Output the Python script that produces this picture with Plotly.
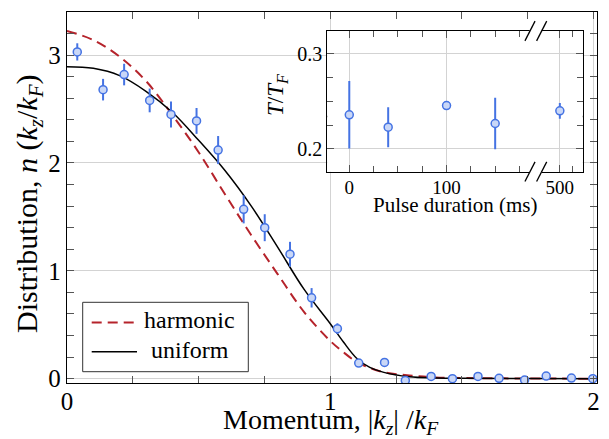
import plotly.graph_objects as go

# ---------------- main panel data ----------------
kz = [0.039, 0.137, 0.217, 0.314, 0.395, 0.492, 0.574, 0.671, 0.751, 0.847, 0.929,
      1.027, 1.108, 1.206, 1.285, 1.383, 1.464, 1.561, 1.641, 1.738, 1.820, 1.916, 1.997]
n_meas = [3.03, 2.68, 2.82, 2.58, 2.45, 2.39, 2.12, 1.57, 1.40, 1.154, 0.75,
          0.464, 0.145, 0.151, -0.016, 0.021, 0.0, 0.021, 0.003, -0.013, 0.024, 0.006, 0.0]
n_err = [0.08, 0.10, 0.10, 0.11, 0.12, 0.12, 0.13, 0.13, 0.125, 0.115, 0.09,
         0.05, 0.02, 0.02, 0.01, 0.01, 0.01, 0.01, 0.01, 0.01, 0.01, 0.01, 0.01]

curve_x = [0.0, 0.1, 0.2, 0.3, 0.4, 0.5, 0.6, 0.7, 0.8, 0.9, 1.0, 1.05, 1.1, 1.15,
           1.2, 1.3, 1.4, 1.5, 1.75, 2.0]
harm_y = [3.225, 3.14, 2.985, 2.76, 2.445, 2.10, 1.71, 1.33, 0.97, 0.62, 0.35, 0.245, 0.155, 0.10,
          0.061, 0.030, 0.012, 0.006, 0.002, 0.0]
unif_y = [2.893, 2.878, 2.81, 2.665, 2.47, 2.21, 1.93, 1.60, 1.22, 0.83, 0.51, 0.34, 0.19, 0.105,
          0.061, 0.018, 0.007, 0.003, 0.001, 0.0]
series_names = ["harmonic", "uniform"]

# ---------------- inset data ----------------
pulse_ms = [0, 40, 100, 150, 500]
T_over_TF = [0.2358, 0.2228, 0.2456, 0.2267, 0.240]
T_err = [0.0355, 0.021, 0.004, 0.027, 0.0083]
T_mean = 0.234
pulse_ticks = [0, 100, 500]
pulse_ticklabels = ["0", "100", "500"]

BREAK_SHIFT = 283.5  # broken axis: values >= 200 ms are shifted left


def pulse_pos(t):
    return t if t < 200 else t - BREAK_SHIFT


# ---------------- geometry helpers (pixel -> paper) ----------------
W, H = 609, 439
ML, MR, MT, MB = 67, 12, 12, 56
PW, PH = W - ML - MR, H - MT - MB


def px(xp):
    return (xp - ML) / PW


def py(yp):
    return (H - MB - yp) / PH


FONT = "Liberation Serif"
BLUE_LINE = "#4573e3"
BLUE_FILL = "#c9d7f7"
RED = "#b5232b"
GRID = "#d3d3d3"
TICKC = "#555555"
RED_DASH = "10px,6px"

fig = go.Figure()

fig.add_trace(go.Scatter(x=curve_x, y=harm_y, mode="lines", name=series_names[0], showlegend=False,
                         line=dict(color=RED, width=2, dash=RED_DASH, shape="spline", smoothing=1.0)))
fig.add_trace(go.Scatter(x=curve_x, y=unif_y, mode="lines", name=series_names[1], showlegend=False,
                         line=dict(color="black", width=1.5, shape="spline", smoothing=1.0)))
fig.add_trace(go.Scatter(x=kz, y=n_meas, mode="markers", showlegend=False,
                         error_y=dict(type="data", array=n_err, color=BLUE_LINE, thickness=2, width=0),
                         marker=dict(size=8, color=BLUE_FILL, line=dict(color=BLUE_LINE, width=1.5))))

fig.add_trace(go.Scatter(x=[pulse_pos(t) for t in pulse_ms], y=T_over_TF, mode="markers",
                         xaxis="x2", yaxis="y2", showlegend=False,
                         error_y=dict(type="data", array=T_err, color=BLUE_LINE, thickness=2, width=0),
                         marker=dict(size=8, color=BLUE_FILL, line=dict(color=BLUE_LINE, width=1.5))))

axis_common = dict(showline=True, linecolor="black", linewidth=1.3, mirror="ticks",
                   ticks="inside", ticklen=7, tickcolor=TICKC, tickwidth=1,
                   showgrid=True, gridcolor=GRID, gridwidth=1, zeroline=False, automargin=False)

fig.update_layout(
    width=W, height=H,
    margin=dict(l=ML, r=MR, t=MT, b=MB),
    paper_bgcolor="white", plot_bgcolor="white",
    font=dict(family=FONT, size=22, color="black"),
    showlegend=False,
    xaxis=dict(**axis_common, domain=[0, 1], range=[0, 2.013], tick0=0, dtick=1,
               tickfont=dict(size=25), ticklabelstandoff=-4,
               minor=dict(dtick=0.25, ticks="inside", ticklen=7, tickcolor=TICKC, showgrid=False)),
    yaxis=dict(**axis_common, domain=[0, 1], range=[-0.04, 3.40], tick0=0, dtick=1,
               tickfont=dict(size=25),
               minor=dict(dtick=0.2, ticks="inside", ticklen=7, tickcolor=TICKC, showgrid=False)),
    xaxis2=dict(**axis_common, domain=[px(327.3), px(582.7)], anchor="y2", range=[-22.6, 240],
                tickmode="array", tickvals=[pulse_pos(t) for t in pulse_ticks], ticktext=pulse_ticklabels,
                tickfont=dict(size=19), ticklabelstandoff=-2,
                minor=dict(tickvals=[25, 50, 75, 125, 150, 175, 230], ticks="inside", ticklen=6,
                           tickcolor=TICKC, showgrid=False)),
    yaxis2=dict(**axis_common, domain=[py(171.7), py(31)], anchor="x2", range=[0.176, 0.324],
                tickmode="array", tickvals=[0.2, 0.3], ticktext=["0.2", "0.3"],
                tickfont=dict(size=20),
                minor=dict(dtick=0.025, tick0=0.2, ticks="inside", ticklen=6, tickcolor=TICKC, showgrid=False)),
)

shapes = [
    # white background of inset (covers main gridlines)
    dict(type="rect", xref="x2 domain", yref="y2 domain", x0=0, x1=1, y0=0, y1=1,
         fillcolor="white", line=dict(width=0), layer="below"),
    # mean temperature line
    dict(type="line", xref="x2 domain", yref="y2", x0=0, x1=1, y0=T_mean, y1=T_mean,
         line=dict(color="black", width=1.5), layer="below"),
]
# axis break marks
for yd in (0.0, 1.0):
    shapes.append(dict(type="line", xref="x2", yref="y2 domain", x0=185.5, x1=198, y0=yd, y1=yd,
                       line=dict(color="white", width=4), layer="above"))
    for xc in (185.8, 197.8):
        shapes.append(dict(type="line", xref="x2", yref="y2 domain",
                           x0=xc - 5.2, x1=xc + 5.2, y0=yd - 0.07, y1=yd + 0.07,
                           line=dict(color="black", width=1.3), layer="above"))

# legend box (drawn by hand to match the boxed pgfplots legend)
shapes.append(dict(type="rect", xref="paper", yref="paper", x0=px(82.7), x1=px(248.3),
                   y0=py(371.7), y1=py(302.3), fillcolor="white",
                   line=dict(color="#333333", width=1), layer="above"))
shapes.append(dict(type="line", xref="paper", yref="paper", x0=px(91.7), x1=px(134.5),
                   y0=py(322.5), y1=py(322.5), line=dict(color=RED, width=2, dash=RED_DASH), layer="above"))
shapes.append(dict(type="line", xref="paper", yref="paper", x0=px(91.7), x1=px(137),
                   y0=py(351.7), y1=py(351.7), line=dict(color="black", width=1.5), layer="above"))
fig.update_layout(shapes=shapes)

annotations = [
    dict(text=series_names[0], x=px(189.6), y=py(320), xref="paper", yref="paper",
         showarrow=False, xanchor="center", yanchor="middle", font=dict(size=24)),
    dict(text=series_names[1], x=px(189.6), y=py(350), xref="paper", yref="paper",
         showarrow=False, xanchor="center", yanchor="middle", font=dict(size=24)),
    dict(text="Momentum, |<i>k<sub>z</sub></i>| /<i>k<sub>F</sub></i>", x=px(331), y=py(421),
         xref="paper", yref="paper", showarrow=False, xanchor="center", yanchor="middle",
         font=dict(size=28)),
    dict(text="Distribution, <i>n</i> (<i>k<sub>z</sub></i>/<i>k<sub>F</sub></i>)", x=px(29), y=py(204),
         xref="paper", yref="paper", showarrow=False, xanchor="center", yanchor="middle",
         textangle=-90, font=dict(size=30)),
    dict(text="Pulse duration (ms)", x=px(455), y=py(205), xref="paper", yref="paper",
         showarrow=False, xanchor="center", yanchor="middle", font=dict(size=21)),
    dict(text="<i>T</i>/<i>T<sub>F</sub></i>", x=px(277), y=py(95), xref="paper", yref="paper",
         showarrow=False, xanchor="center", yanchor="middle", textangle=-90, font=dict(size=23)),
]
fig.update_layout(annotations=annotations)

fig.write_html("out.html", config={"displayModeBar": False},
               post_script="document.body.style.margin='0';document.body.style.overflow='hidden';")
